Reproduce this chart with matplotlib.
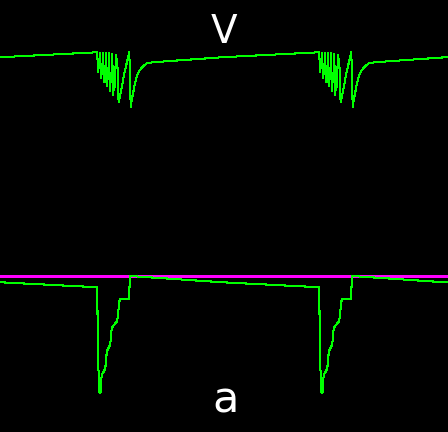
import numpy as np
import matplotlib
matplotlib.use("Agg")
import matplotlib.pyplot as plt

# one burst cycle, times in ms, first cycle starts at t = 0
cycle_t = [0, 97.0,
           97.3, 97.9, 98.8, 99.4, 100.1, 100.8, 101.7, 102.3, 103.0, 103.7,
           104.6, 105.2, 105.9, 106.6, 107.6, 108.2, 108.9, 109.8, 110.8, 111.4,
           112.2, 113.2, 114.3, 115.0, 115.8, 117.3, 118.6,
           120.0, 122.0, 124.0, 126.0, 128.0, 129.3, 130.7,
           131.7, 133.3, 135.0, 136.7, 138.3, 140.0, 141.7, 143.3, 145.0, 146.7,
           150.0, 153.3, 160.0]
cycle_V = [-52.1, -50.1,
           -50.1, -58.0, -53.6, -56.4, -50.2, -60.4, -54.8, -58.0, -50.4, -62.0,
           -55.6, -59.6, -50.2, -63.6, -56.8, -60.8, -50.4, -65.6, -58.4, -62.0,
           -50.8, -67.2, -60.4, -64.0, -51.2, -54.0, -70.0,
           -67.6, -63.6, -59.2, -55.6, -52.4, -50.0, -72.0,
           -69.2, -65.9, -62.5, -59.9, -58.3, -57.2, -56.3, -55.6, -55.1, -54.5,
           -54.3, -54.1, -53.9]

cycle_ta = [0, 97.3, 97.5, 98.3, 99.5, 100.5, 100.7, 101.7, 105.0, 106.0,
            106.7, 110.0, 110.7, 111.7, 116.7, 117.7, 119.0, 119.7, 129.3,
            129.4, 130.3]
cycle_a = [-0.54, -0.97, -3.19, -7.76, -10.06, -10.06, -9.54, -8.53, -8.04,
           -7.50, -6.53, -5.95, -5.52, -4.48, -3.94, -3.56, -2.50, -2.01,
           -2.01, -1.06, 0.0]

burst_onsets = [0, 222, 444]
a_threshold = 0.0

t_V = np.concatenate([np.array(cycle_t) + o for o in burst_onsets])
V = np.concatenate([cycle_V for o in burst_onsets])
t_a = np.concatenate([np.array(cycle_ta) + o for o in burst_onsets])
a = np.concatenate([cycle_a for o in burst_onsets])

fig = plt.figure(figsize=(4.48, 4.32), dpi=100, facecolor='black')

ax1 = fig.add_axes([0, 1 - 132 / 432, 1, 100 / 432])
ax1.plot(t_V, V, color='#00ff00', lw=0.75, antialiased=False)
ax1.set_xlim(0, 448)
ax1.set_ylim(-82, -42)
ax1.axis('off')

ax2 = fig.add_axes([0, 1 - 403.6 / 432, 1, 139.2 / 432])
ax2.axhline(a_threshold, color='#ff00ff', lw=0.75, antialiased=False, zorder=1)
ax2.plot(t_a, a, color='#00ff00', lw=0.75, antialiased=False, zorder=2)
ax2.set_xlim(0, 448)
ax2.set_ylim(-11, 1)
ax2.axis('off')

fig.text(224 / 448, 1 - 43 / 432, 'V', color='white', fontsize=28,
         ha='center', va='baseline')
fig.text(226 / 448, 1 - 412.5 / 432, 'a', color='white', fontsize=31,
         ha='center', va='baseline')

fig.savefig('out.png', dpi=100, facecolor='black')
